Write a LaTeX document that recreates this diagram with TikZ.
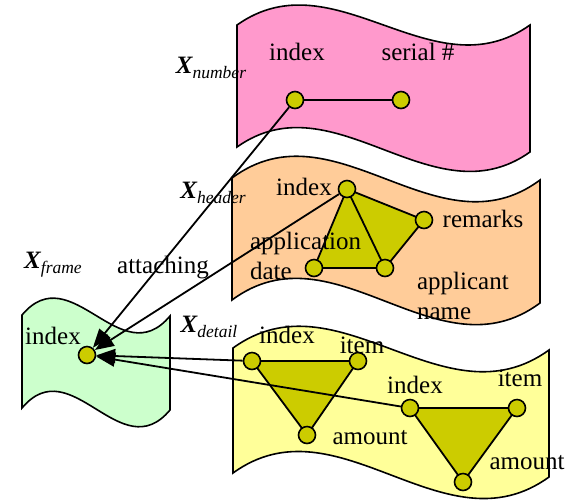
\documentclass[tikz,border=0pt]{standalone}
\usepackage{fontspec}
\setmainfont{Liberation Serif}
\usetikzlibrary{arrows.meta}

\definecolor{pinkband}{HTML}{FF99CC}
\definecolor{peachband}{HTML}{FFCC99}
\definecolor{greenband}{HTML}{CCFFCC}
\definecolor{yellowband}{HTML}{FFFF99}
\definecolor{dotolive}{HTML}{CCCC00}

\newcommand{\relname}[1]{{\bfseries\itshape X}\raisebox{-2.5pt}{\fontsize{8.75}{10}\selectfont\itshape #1}}
\newcommand{\wavebanner}[8]{%
	\draw[banner, fill=#1] (#2,#4) .. controls ({#2+(#3-#2)/3},{#4-3.46*#8}) and ({#2+2*(#3-#2)/3},{#5+3.46*#8}) .. (#3,#5)
		-- (#3,#7) .. controls ({#2+2*(#3-#2)/3},{#7+3.46*#8}) and ({#2+(#3-#2)/3},{#6-3.46*#8}) .. (#2,#6) -- cycle;}

\tikzset{
	banner/.style = {draw, line width=0.8pt},
	dot/.style = {circle, draw, fill=dotolive, line width=0.8pt, minimum size=8.5pt, inner sep=0pt},
	link/.style = {line width=0.9pt},
	attach/.style = {line width=0.9pt, -{Triangle[length=9.5pt, width=7pt]}},
}

\begin{document}
\begin{tikzpicture}[x=0.5pt, y=-0.5pt, font=\fontsize{12.5}{15}\selectfont]
	\useasboundingbox (0,0) rectangle (572,500);
	\wavebanner{pinkband}{237}{530}{25}{25}{147}{152}{20}
	\wavebanner{peachband}{232}{540}{178}{180}{300}{303}{22}
	\wavebanner{greenband}{22}{170}{315}{316}{408}{410}{17}
	\wavebanner{yellowband}{233}{549}{348}{350}{473}{477}{22}

	\coordinate (hidx) at (347,189);
	\coordinate (hrem) at (424,220);
	\coordinate (hdate) at (314,268);
	\coordinate (hname) at (385,268);
	\coordinate (aidx) at (252,361);
	\coordinate (aitem) at (358,361);
	\coordinate (aamt) at (307,435);
	\coordinate (bidx) at (410,408);
	\coordinate (bitem) at (517,408);
	\coordinate (bamt) at (463,482);

	\draw [link, fill=dotolive] (hidx) -- (hrem) -- (hname) -- (hdate) -- cycle;
	\draw [link] (hidx) -- (hname);
	\draw [link, fill=dotolive] (aidx) -- (aitem) -- (aamt) -- cycle;
	\draw [link, fill=dotolive] (bidx) -- (bitem) -- (bamt) -- cycle;

	\node [dot] (numidx) at (295,100) {};
	\node [dot] (numserial) at (401,100) {};
	\node [dot] (headidx) at (hidx) {};
	\node [dot] (headrem) at (hrem) {};
	\node [dot] (headdate) at (hdate) {};
	\node [dot] (headappl) at (hname) {};
	\node [dot] (frameidx) at (87,355) {};
	\node [dot] (detaidx) at (aidx) {};
	\node [dot] (detaitem) at (aitem) {};
	\node [dot] (detaamt) at (aamt) {};
	\node [dot] (detbidx) at (bidx) {};
	\node [dot] (detbitem) at (bitem) {};
	\node [dot] (detbamt) at (bamt) {};

	\draw [link] (numidx) -- (numserial);
	\draw [attach] (numidx) -- (frameidx);
	\draw [attach] (headidx) -- (frameidx);
	\draw [attach] (detaidx) -- (frameidx);
	\draw [attach] (detbidx) -- (frameidx);

	\node (numtitle) at (211,68) {\relname{number}};
	\node (headtitle) at (213,193) {\relname{header}};
	\node (frametitle) at (53,265) {\relname{frame}};
	\node (dettitle) at (209,327) {\relname{detail}};
	\node (attaching) at (163,268) {attaching};

	\node (numidxlbl) at (297,52) {index};
	\node (numseriallbl) at (418,52) {serial \#};
	\node (headidxlbl) at (304,187) {index};
	\node (headremlbl) at (483,219) {remarks};
	\node [anchor=west, align=left] (headdatelbl) at (243,256) {application\\date};
	\node [anchor=west, align=left] (headappllbl) at (410,296) {applicant\\name};
	\node (frameidxlbl) at (53,336) {index};
	\node (detaidxlbl) at (287,335) {index};
	\node (detaitemlbl) at (362,345) {item};
	\node (detaamtlbl) at (370,438) {amount};
	\node (detbidxlbl) at (415,385) {index};
	\node (detbitemlbl) at (520,378) {item};
	\node (detbamtlbl) at (527,463) {amount};
\end{tikzpicture}
\end{document}
